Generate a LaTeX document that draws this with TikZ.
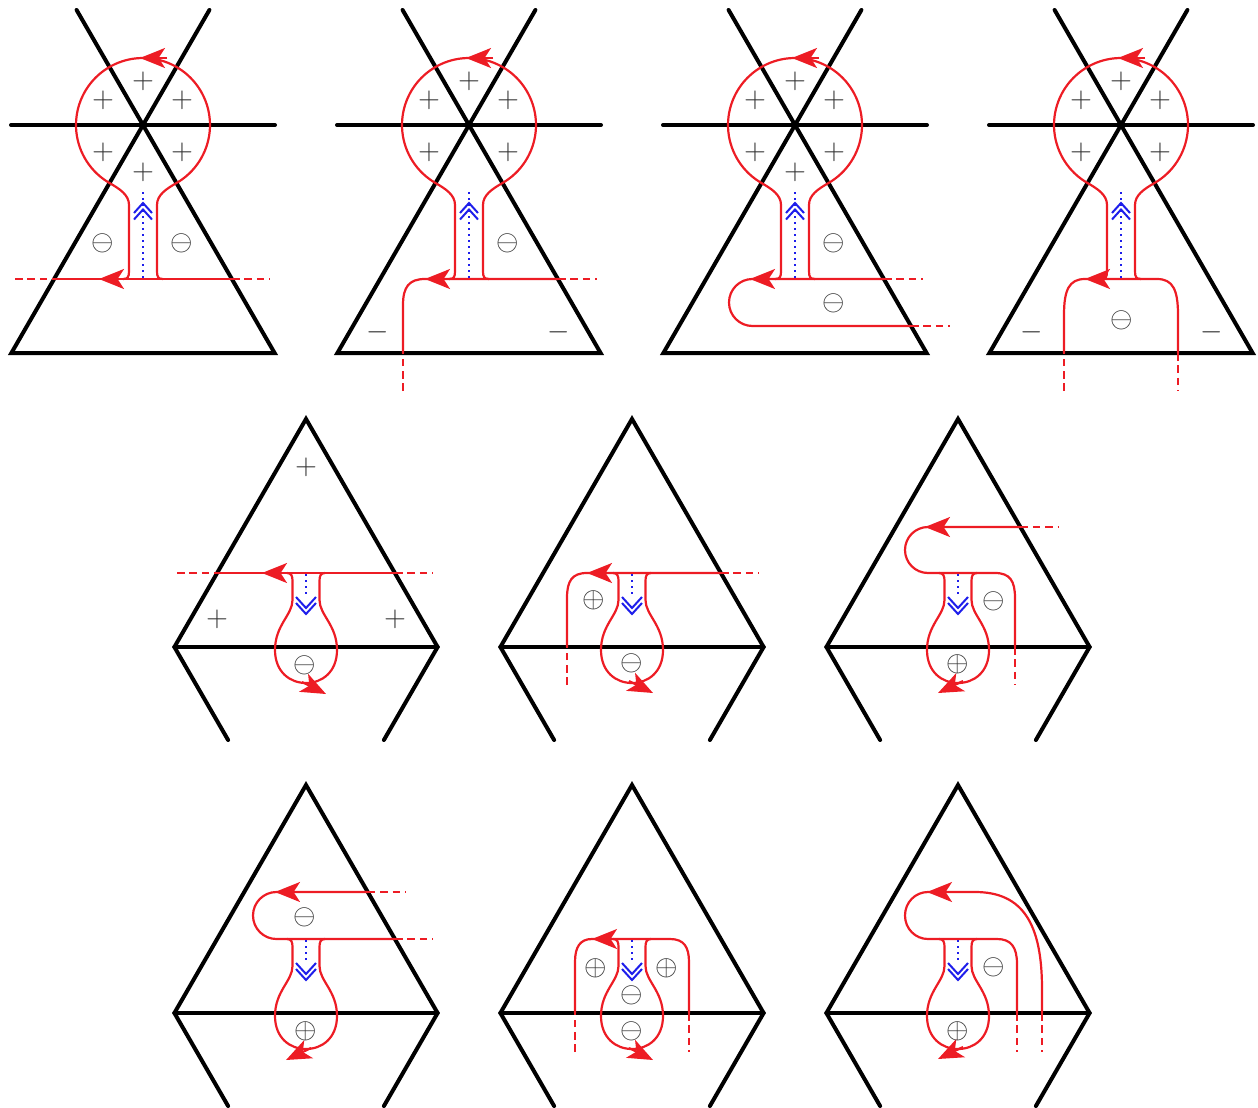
\documentclass[tikz,border=0pt]{standalone}
\usetikzlibrary{arrows.meta}
\definecolor{myred}{RGB}{237,28,36}
\definecolor{myblue}{RGB}{30,30,235}
\tikzset{
 blk/.style={line width=2pt, line cap=round, line join=miter, draw=black},
 rd/.style={line width=1.1pt, draw=myred},
 rdash/.style={line width=1.1pt, draw=myred, dash pattern=on 3.8pt off 2.4pt},
 rtip/.style={draw=myred, line width=1.1pt, -{Stealth[length=12.5pt,width=10pt,inset=3.2pt]}},
 bdot/.style={draw=myblue, line width=1.1pt, dash pattern=on 1pt off 2pt},
 bchev/.style={draw=myblue, line width=1pt, line join=miter},
 lbl/.style={inner sep=0pt, font=\fontsize{15.5}{18}\selectfont, text=black!80},
}
\newcommand{\RowOneFrame}{%
 \draw[blk] (-66.4,10) -- (131.6,353) -- (-131.6,353) -- (66.4,10);
 \draw[blk] (-132,125) -- (132,125);
}
\newcommand{\RowOneLoop}{%
 \draw[rd] (-20,279) .. controls (-15,279) and (-14,277) .. (-14,271) -- (-14,205)
   .. controls (-14,195) and (-23.1,189) .. (-33.5,183)
   -- plot[domain=120:420,samples=90,variable=\t] ({67*cos(\t)},{125+67*sin(\t)})
   .. controls (23.1,189) and (14,195) .. (14,205) -- (14,271)
   .. controls (14,277) and (15,279) .. (20,279);
 \draw[rtip] (24,58) -- (-3,58);
 \draw[bdot] (0,192) -- (0,279);
 \draw[bchev] (-9,213) -- (0,203) -- (9,213);
 \draw[bchev] (-9,219.5) -- (0,209.5) -- (9,219.5);
}
\newcommand{\LowFrame}{%
 \draw[blk] (-77.9,167) -- (-131.6,74) -- (0,-154) -- (131.6,74) -- (77.9,167);
 \draw[blk] (-131.6,74) -- (131.6,74);
}
\newcommand{\BulbLoop}{%
 \draw[rd] (-19,0) .. controls (-14.5,0) and (-13.5,3) .. (-13.5,8) -- (-13.5,27)
   .. controls (-13.5,42) and (-31,52) .. (-31,77)
   .. controls (-31,99) and (-16,110) .. (0,110)
   .. controls (16,110) and (31,99) .. (31,77)
   .. controls (31,52) and (13.5,42) .. (13.5,27) -- (13.5,8)
   .. controls (13.5,3) and (14.5,0) .. (19,0);
 \draw[bdot] (0,1) -- (0,22);
 \draw[bchev] (-10,24) -- (0,35) -- (10,24);
 \draw[bchev] (-10,30) -- (0,41) -- (10,30);
}
\begin{document}
\begin{tikzpicture}[x=0.5pt,y=-0.5pt]
\useasboundingbox (0,0) rectangle (1258,1108);
% ---------------- panel 1
\begin{scope}[shift={(143,0)}]
 \RowOneFrame
 \draw[rdash] (-128,279) -- (-89,279);
 \draw[rd] (-89,279) -- (89,279);
 \draw[rdash] (89,279) -- (127,279);
 \RowOneLoop
 \draw[rtip] (-17,279) -- (-44,279);
 \node[lbl] (p1a) at (0,81) {$+$};
 \node[lbl] (p1b) at (-40,100) {$+$};
 \node[lbl] (p1c) at (39,100) {$+$};
 \node[lbl] (p1d) at (-40,152) {$+$};
 \node[lbl] (p1e) at (39,152) {$+$};
 \node[lbl] (p1f) at (0,172) {$+$};
 \node[lbl] (p1g) at (-40,243) {$\ominus$};
 \node[lbl] (p1h) at (39,243) {$\ominus$};
\end{scope}
% ---------------- panel 2
\begin{scope}[shift={(469,0)}]
 \RowOneFrame
 \draw[rdash] (-66,391) -- (-66,353);
 \draw[rd] (-66,353) -- (-66,305) .. controls (-66,287) and (-60,279) .. (-44,279) -- (89,279);
 \draw[rdash] (89,279) -- (128,279);
 \RowOneLoop
 \draw[rtip] (-17,279) -- (-44,279);
 \node[lbl] (p2a) at (0,81) {$+$};
 \node[lbl] (p2b) at (-40,100) {$+$};
 \node[lbl] (p2c) at (39,100) {$+$};
 \node[lbl] (p2d) at (-40,152) {$+$};
 \node[lbl] (p2e) at (39,152) {$+$};
 \node[lbl] (p2g) at (39,243) {$\ominus$};
 \node[lbl] (p2m) at (-91,332) {$-$};
 \node[lbl] (p2n) at (90,332) {$-$};
\end{scope}
% ---------------- panel 3
\begin{scope}[shift={(795,0)}]
 \RowOneFrame
 \draw[rd] (89,279) -- (-42.5,279) .. controls (-55.5,279) and (-66,289.5) .. (-66,302.5)
   .. controls (-66,315.5) and (-55.5,326) .. (-42.5,326) -- (116,326);
 \draw[rdash] (89,279) -- (128,279);
 \draw[rdash] (116,326) -- (155,326);
 \RowOneLoop
 \draw[rtip] (-18,279) -- (-45,279);
 \node[lbl] (p3a) at (0,81) {$+$};
 \node[lbl] (p3b) at (-40,100) {$+$};
 \node[lbl] (p3c) at (39,100) {$+$};
 \node[lbl] (p3d) at (-40,152) {$+$};
 \node[lbl] (p3e) at (39,152) {$+$};
 \node[lbl] (p3f) at (0,172) {$+$};
 \node[lbl] (p3g) at (39,243) {$\ominus$};
 \node[lbl] (p3h) at (39,303) {$\ominus$};
\end{scope}
% ---------------- panel 4
\begin{scope}[shift={(1121,0)}]
 \RowOneFrame
 \draw[rdash] (-57,391) -- (-57,353);
 \draw[rd] (-57,353) -- (-57,315) .. controls (-57,290) and (-52,279) .. (-36,279) -- (36,279)
   .. controls (52,279) and (57,290) .. (57,315) -- (57,353);
 \draw[rdash] (57,353) -- (57,391);
 \RowOneLoop
 \draw[rtip] (-9,279) -- (-36,279);
 \node[lbl] (p4a) at (0,81) {$+$};
 \node[lbl] (p4b) at (-40,100) {$+$};
 \node[lbl] (p4c) at (39,100) {$+$};
 \node[lbl] (p4d) at (-40,152) {$+$};
 \node[lbl] (p4e) at (39,152) {$+$};
 \node[lbl] (p4g) at (1,320) {$\ominus$};
 \node[lbl] (p4m) at (-89,332) {$-$};
 \node[lbl] (p4n) at (91,332) {$-$};
\end{scope}
% ---------------- panel 5
\begin{scope}[shift={(306,573)}]
 \LowFrame
 \draw[rdash] (-129,0) -- (-89,0);
 \draw[rd] (-89,0) -- (89,0);
 \draw[rdash] (89,0) -- (127,0);
 \BulbLoop
 \draw[rtip] (-17,0) -- (-44,0);
 \draw[rtip] (-4,109) -- (20,121);
 \node[lbl] (p5a) at (0,-106) {$+$};
 \node[lbl] (p5b) at (-89,46) {$+$};
 \node[lbl] (p5c) at (89,46) {$+$};
 \node[lbl] (p5d) at (-1,92) {$\ominus$};
\end{scope}
% ---------------- panel 6
\begin{scope}[shift={(632,573)}]
 \LowFrame
 \draw[rdash] (-65,112) -- (-65,74);
 \draw[rd] (-65,74) -- (-65,25) .. controls (-65,8) and (-60,0) .. (-45,0) -- (89,0);
 \draw[rdash] (89,0) -- (127,0);
 \BulbLoop
 \draw[rtip] (-18,0) -- (-45,0);
 \draw[rtip] (-3,108) -- (21,120);
 \node[lbl] (p6a) at (-38,27) {$\oplus$};
 \node[lbl] (p6b) at (0,90) {$\ominus$};
\end{scope}
% ---------------- panel 7
\begin{scope}[shift={(958,573)}]
 \LowFrame
 \draw[rdash] (62.4,-46) -- (101,-46);
 \draw[rd] (62.4,-46) -- (-30,-46) .. controls (-42.7,-46) and (-53,-35.7) .. (-53,-23)
   .. controls (-53,-10.3) and (-42.7,0) .. (-30,0) -- (37,0)
   .. controls (52,0) and (57,8) .. (57,25) -- (57,74);
 \draw[rdash] (57,74) -- (57,112);
 \BulbLoop
 \draw[rtip] (-6,-46) -- (-33,-46);
 \draw[rtip] (5,108) -- (-20,120);
 \node[lbl] (p7a) at (36,28) {$\ominus$};
 \node[lbl] (p7b) at (0,91) {$\oplus$};
\end{scope}
% ---------------- panel 8
\begin{scope}[shift={(306,939)}]
 \LowFrame
 \draw[rdash] (61.8,-47) -- (100,-47);
 \draw[rd] (61.8,-47) -- (-29.5,-47) .. controls (-42.5,-47) and (-53,-36.5) .. (-53,-23.5)
   .. controls (-53,-10.5) and (-42.5,0) .. (-29.5,0) -- (89,0);
 \draw[rdash] (89,0) -- (127,0);
 \BulbLoop
 \draw[rtip] (-4,-47) -- (-31,-47);
 \draw[rtip] (5,109) -- (-20,121);
 \node[lbl] (p8a) at (-1,-22) {$\ominus$};
 \node[lbl] (p8b) at (0,92) {$\oplus$};
\end{scope}
% ---------------- panel 9
\begin{scope}[shift={(632,939)}]
 \LowFrame
 \draw[rdash] (-57,113) -- (-57,74);
 \draw[rd] (-57,74) -- (-57,23) .. controls (-57,8) and (-52,0) .. (-40,0) -- (38,0)
   .. controls (52,0) and (57,8) .. (57,23) -- (57,74);
 \draw[rdash] (57,74) -- (57,113);
 \BulbLoop
 \draw[rtip] (-13,0) -- (-40,0);
 \draw[rtip] (-3,109) -- (21,121);
 \node[lbl] (p9a) at (-36,29) {$\oplus$};
 \node[lbl] (p9b) at (35,29) {$\oplus$};
 \node[lbl] (p9c) at (0,56) {$\ominus$};
 \node[lbl] (p9d) at (0,92) {$\ominus$};
\end{scope}
% ---------------- panel 10
\begin{scope}[shift={(958,939)}]
 \LowFrame
 \draw[rd] (84,74) -- (84,50) .. controls (84,-15) and (65,-47) .. (17,-47)
   -- (-30,-47) .. controls (-42.7,-47) and (-53,-36.7) .. (-53,-23.5)
   .. controls (-53,-10.3) and (-42.7,0) .. (-30,0) -- (39,0)
   .. controls (53,0) and (59,8) .. (59,25) -- (59,74);
 \draw[rdash] (84,74) -- (84,113);
 \draw[rdash] (59,74) -- (59,113);
 \BulbLoop
 \draw[rtip] (-4,-47) -- (-31,-47);
 \draw[rtip] (5,108) -- (-20,120);
 \node[lbl] (p10a) at (36,28) {$\ominus$};
 \node[lbl] (p10b) at (0,92) {$\oplus$};
\end{scope}
\end{tikzpicture}
\end{document}
